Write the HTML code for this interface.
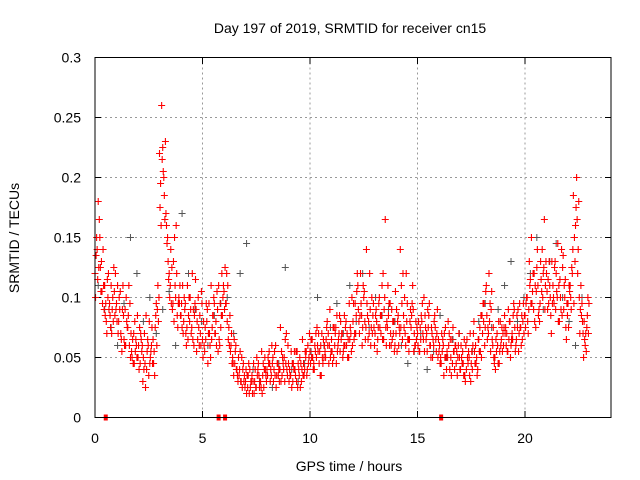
<!DOCTYPE html>
<html><head><meta charset="utf-8"><style>
body{margin:0;background:#fff}
svg{display:block;font-family:"Liberation Sans",sans-serif}
</style></head><body>
<svg id="chart" width="640" height="480" viewBox="0 0 640 480">
<rect width="640" height="480" fill="#fff"/>
<text x="350" y="33" font-size="14" text-anchor="middle">Day 197 of 2019, SRMTID for receiver cn15</text>
<text x="349" y="471" font-size="14" text-anchor="middle">GPS time / hours</text>
<text transform="translate(19,238) rotate(-90)" font-size="14" text-anchor="middle">SRMTID / TECUs</text>
<g id="grid"></g>
<g id="ticks"></g>
<g id="marks"></g>
<rect x="95" y="57.5" width="516" height="360" fill="none" stroke="#000" stroke-width="1"/>
</svg>
<script>
const xTicks=[0,5,10,15,20];
const yTicks=[0,0.05,0.1,0.15,0.2,0.25,0.3];
const yTickLabels=["0","0.05","0.1","0.15","0.2","0.25","0.3"];
const redStep=0.1;
const redA=[120,140,165,130,110,95,100,85,90,105,95,80,70,110,90,75,60,55,70,65,50,45,60,70,40,35,55,65,75,90,220,260,200,170,130,110,90,150,120,100,85,70,95,110,80,75,60,90,100,70,65,55,80,95,110,85,70,90,60,120,105,95,65,55,50,45,40,35,30,45,30,25,40,35,20,25,45,30,35,50,40,55,35,30,60,45,40,35,50,70,45,35,30,40,55,35,30,45,50,60,55,65,40,50,70,60,45,55,80,60,65,50,75,60,55,70,85,60,50,70,80,95,120,70,85,100,75,65,90,70,60,80,95,70,120,165,75,60,90,80,70,85,140,65,100,80,55,75,90,60,70,55,80,100,65,75,60,50,85,70,55,45,60,75,50,40,65,55,45,60,40,55,35,65,50,45,70,60,40,75,85,95,110,70,55,60,50,70,45,65,60,75,55,80,70,90,65,55,75,80,85,100,130,150,90,75,110,95,140,165,120,95,85,110,130,100,80,140,90,75,95,110,120,150,200,180,110,70,60,85];
const redB=[100,115,150,105,90,80,120,75,100,85,80,100,65,85,60,75,95,50,45,60,60,70,30,45,55,80,60,45,85,110,175,215,185,160,115,140,95,110,85,95,95,80,70,65,100,120,85,55,75,60,50,75,90,70,65,100,80,55,95,85,90,120,75,60,45,55,35,40,50,30,40,35,25,20,30,50,35,25,45,40,35,45,60,40,25,35,75,50,30,40,30,55,45,35,25,50,40,35,55,45,45,50,60,75,45,35,65,50,60,90,55,75,45,65,80,50,60,70,95,55,95,70,110,85,60,105,140,80,60,85,70,55,100,85,65,75,110,95,65,55,90,60,75,120,70,95,65,85,55,80,60,75,95,55,70,85,50,65,75,90,60,70,35,50,80,65,45,40,55,70,60,45,30,50,35,55,80,45,65,55,70,60,85,120,90,75,40,60,55,75,75,60,90,50,65,75,85,70,60,95,75,80,110,95,120,105,85,130,100,90,105,130,70,100,90,145,115,85,110,65,75,100,140,130,165,100,85,50,70,100];
const redC=[135,180,125,95,110,70,90,110,80,120,110,90,55,65,100,85,50,65,80,50,40,65,50,25,65,45,75,55,95,80,195,225,165,145,120,95,130,100,75,110,75,100,60,85,90,65,95,80,60,105,80,65,45,60,75,95,60,110,75,100,125,80,60,70,35,60,30,55,25,35,20,45,30,30,40,35,25,55,25,35,50,30,45,55,35,40,30,45,65,35,40,25,40,55,45,25,65,40,35,50,65,40,55,60,55,70,50,65,70,50,45,60,85,70,65,55,75,50,65,100,65,85,90,120,75,80,95,70,75,95,85,65,75,110,90,60,85,70,80,60,55,75,110,85,60,65,80,95,70,65,80,65,70,85,55,95,75,60,65,50,45,55,70,40,60,50,75,60,35,50,50,35,60,45,70,40,55,50,65,85,95,75,65,80,105,50,65,45,80,55,85,70,65,60,85,55,75,95,85,70,95,70,115,105,80,125,90,115,120,110,90,110,130,95,120,80,100,125,100,95,110,90,185,160,120,70,95,80,55,70];
const redD=[150,125,105,140,85,115,95,70,125,90,70,105,90,60,80,110,70,45,55,85,75,55,40,85,60,50,45,35,60,100,160,205,230,150,100,125,80,160,95,85,110,90,75,100,70,90,115,65,85,95,60,95,70,50,85,70,105,65,85,110,95,110,85,45,65,40,50,30,40,25,35,20,30,45,25,40,30,20,40,30,45,40,50,35,45,30,55,40,45,60,35,45,55,30,40,45,35,55,40,70,50,45,70,55,35,50,60,75,45,55,75,70,55,85,70,60,80,65,75,60,70,105,80,95,110,65,85,120,100,75,90,75,85,65,100,80,95,60,70,105,80,70,95,75,120,65,90,110,60,75,55,85,65,75,90,60,70,80,55,65,50,65,50,55,70,35,55,60,50,40,45,65,40,55,30,60,45,35,55,50,80,105,75,95,65,45,55,80,60,70,70,55,80,65,95,60,90,75,65,85,100,90,95,120,110,140,80,105,125,130,115,100,95,125,105,110,90,135,115,85,105,125,95,175,140,90,80,65,75,95];
const grayStep=0.3;
const gray=[110,90,75,60,95,150,120,80,100,70,90,105,60,170,120,90,80,60,85,95,100,70,120,145,40,30,35,25,45,125,40,30,45,55,100,60,75,95,70,110,80,120,75,100,85,90,80,60,45,55,70,40,55,85,50,65,70,60,55,80,95,75,90,110,130,80,100,120,150,90,130,145,100,80,60,100];
const zeroTimes=[0.5,5.75,6.05,16.1];
const X=t=>95+t*21.5, Y=v=>417.5-v*1200;
const NS="http://www.w3.org/2000/svg";
const grid=document.getElementById('grid'), ticks=document.getElementById('ticks'), marks=document.getElementById('marks');
function mk(tag,attrs,parent){const e=document.createElementNS(NS,tag);for(const k in attrs)e.setAttribute(k,attrs[k]);parent.appendChild(e);return e;}
xTicks.forEach(t=>{
  const x=X(t);
  if(t>0){const g=mk('line',{x1:x,x2:x,y1:57.5,y2:417.5,stroke:'#999','stroke-dasharray':'2,3'},grid);
  
  }
  mk('line',{x1:x,x2:x,y1:417.5,y2:411,stroke:'#000'},ticks);
  mk('line',{x1:x,x2:x,y1:57.5,y2:64,stroke:'#000'},ticks);
  const l=mk('text',{x:x,y:443,'font-size':14,'text-anchor':'middle'},ticks);l.textContent=t;
  
  
});
yTicks.forEach((v,i)=>{
  const y=Y(v);
  if(v>0&&v<0.3){const g=mk('line',{x1:95,x2:611,y1:y,y2:y,stroke:'#999','stroke-dasharray':'2,3'},grid);
  
  }
  mk('line',{x1:95,x2:101,y1:y,y2:y,stroke:'#000'},ticks);
  mk('line',{x1:611,x2:605,y1:y,y2:y,stroke:'#000'},ticks);
  const l=mk('text',{x:81,y:y+5,'font-size':14,'text-anchor':'end'},ticks);l.textContent=yTickLabels[i];
  
  
});
function plus(t,v){const x=X(t),y=Y(v);return `M${x-3.5},${y}h7M${x},${y-3.5}v7`;}
let gd='';gray.forEach((v,i)=>{gd+=plus(i*grayStep+0.15,v/1000);});
const gp=mk('path',{d:gd,stroke:'#555','stroke-width':1,fill:'none'},marks);


let rd='';
[[redA,0],[redB,0.025],[redC,0.05],[redD,0.075]].forEach(([arr,off])=>arr.forEach((v,i)=>{rd+=plus(i*redStep+off,v/1000);}));
const rp=mk('path',{d:rd,stroke:'#f00','stroke-width':1.1,fill:'none'},marks);


zeroTimes.forEach(t=>{
  const r=mk('rect',{x:X(t)-2,y:414.5,width:4,height:6,fill:'#f00'},marks);
  
  
});
</script>
</body></html>
